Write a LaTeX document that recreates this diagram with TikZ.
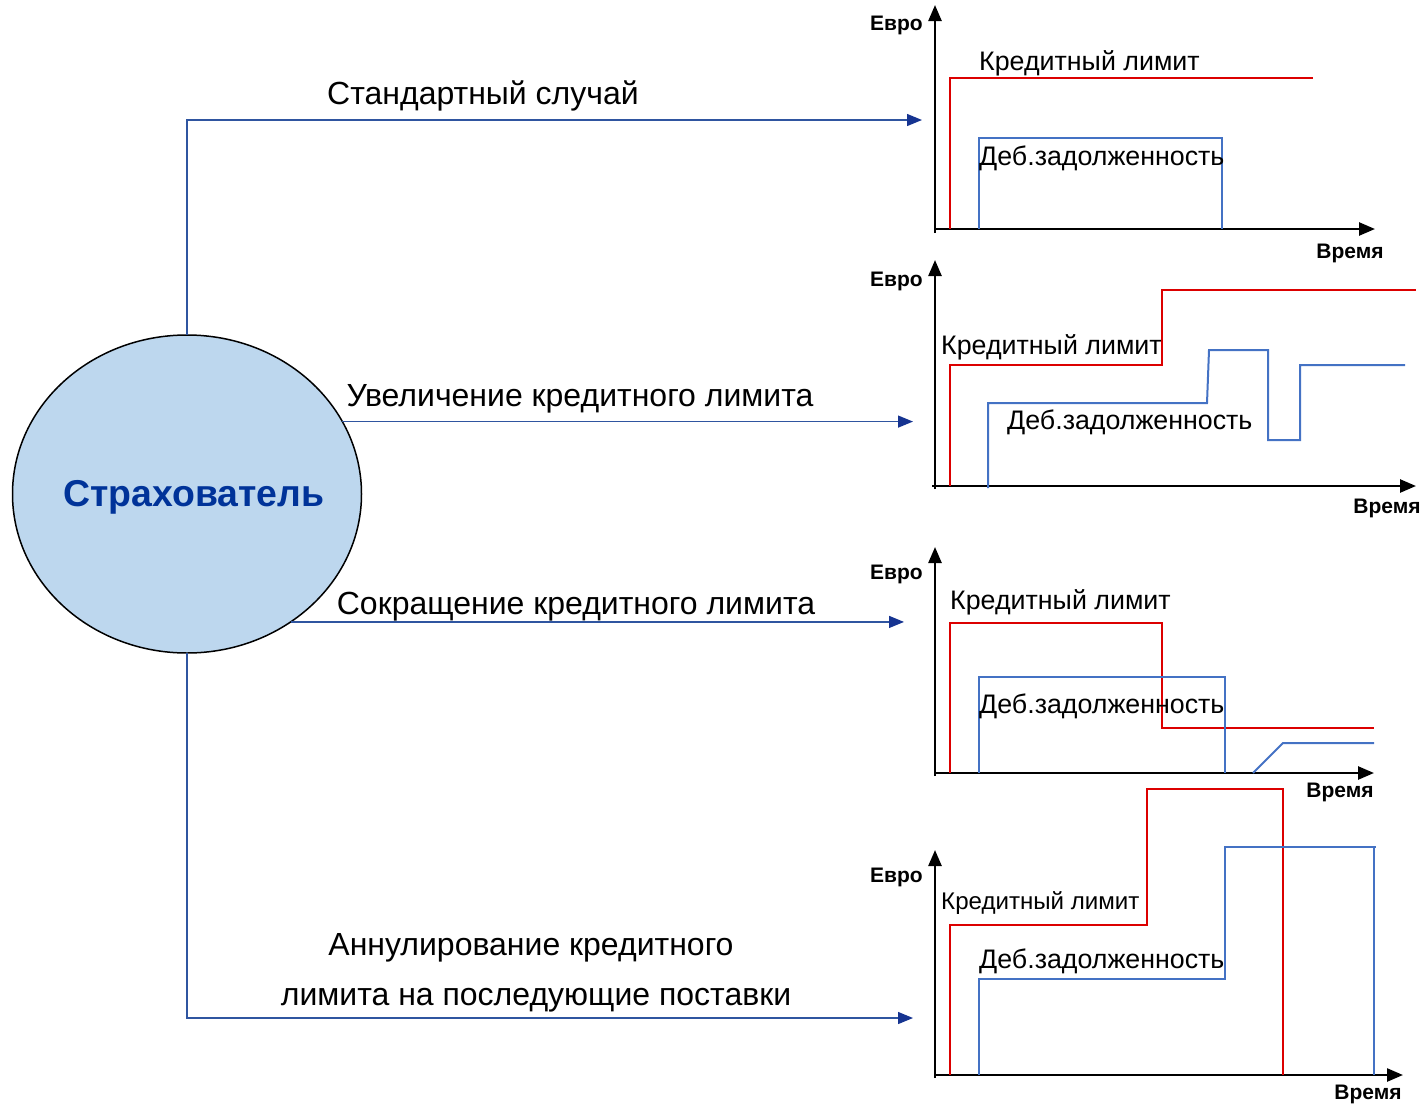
\documentclass[tikz,border=0pt]{standalone}
\usepackage{fontspec}
\setmainfont{Liberation Sans}
\usetikzlibrary{arrows.meta,shapes.geometric}
\definecolor{limc}{RGB}{220,0,0}
\definecolor{debtc}{RGB}{68,114,196}
\definecolor{connc}{RGB}{47,85,160}
\definecolor{arrc}{RGB}{22,52,145}
\definecolor{ellfill}{RGB}{189,215,238}
\definecolor{titc}{RGB}{0,51,153}
\newcommand\setfs[1]{\fontsize{#1}{#1}\selectfont}
\begin{document}
\begin{tikzpicture}[x=1pt,y=-1pt,
  mainlbl/.style={font=\setfs{32}, inner sep=0},
  chlbl/.style={font=\setfs{26.8}, inner sep=0, anchor=west},
  axlbl/.style={font=\bfseries\setfs{21}, inner sep=0},
  axisln/.style={line width=2.5pt, -{Triangle[length=16pt,width=13pt]}},
  conn/.style={draw=connc, line width=1.3pt, -{Triangle[length=15pt,width=12pt,color=arrc]}},
  redl/.style={draw=limc, line width=2pt},
  bluel/.style={draw=debtc, line width=2pt}]
\useasboundingbox (0,0) rectangle (1424,1106);

% central ellipse
\node[ellipse, draw, line width=1.5pt, fill=ellfill, outer sep=0, inner sep=0,
      minimum width=349pt, minimum height=318pt] (ins) at (187,494) {};
\node[font=\bfseries\setfs{37.4}, text=titc, inner sep=0] (tit) at (194,497) {Страхователь};

% connector ends
\coordinate (e1) at (922,120);
\coordinate (e2) at (913,422);
\coordinate (e3) at (904,620);
\coordinate (e4) at (913,1018);
\draw[conn] (ins.north) |- (e1);
\draw[conn] (ins.25.6) -- (ins.25.6 -| e2);
\draw[conn] (ins.-51) -- (ins.-51 -| e3);
\draw[conn] (ins.south) |- (e4);

% connector labels
\node[mainlbl] (l1) at (483,96) {Стандартный случай};
\node[mainlbl] (l2) at (580,399) {Увеличение кредитного лимита};
\node[mainlbl] (l3) at (576,607) {Сокращение кредитного лимита};
\node[mainlbl] (l4a) at (531,948) {Аннулирование кредитного};
\node[mainlbl] (l4b) at (536,1000) {лимита на последующие поставки};

% ---------- chart 1
\draw[axisln] (935,229) -- (1375,229);
\draw[axisln] (935,233) -- (935,5);
\node[axlbl, anchor=east] (ey1) at (923,25) {Евро};
\node[axlbl] (tx1) at (1350,253) {Время};
\draw[redl] (950,229) -- (950,78) -- (1313,78);
\draw[bluel] (979,229) -- (979,138) -- (1222,138) -- (1222,229);
\node[chlbl] (k1) at (979,63) {Кредитный лимит};
\node[chlbl] (d1) at (979,158) {Деб.задолженность};

% ---------- chart 2
\draw[axisln] (932,486) -- (1416,486);
\draw[axisln] (935,489) -- (935,260);
\node[axlbl, anchor=east] (ey2) at (923,281) {Евро};
\node[axlbl] (tx2) at (1387,508) {Время};
\draw[redl] (950,486) -- (950,365) -- (1162,365) -- (1162,290) -- (1416,290);
\draw[bluel] (988,488) -- (988,403) -- (1207,403) -- (1209,350) -- (1268,350)
  -- (1268,440) -- (1300,440) -- (1300,365) -- (1405,365);
\node[chlbl] (k2) at (941,347) {Кредитный лимит};
\node[chlbl] (d2) at (1007,422) {Деб.задолженность};

% ---------- chart 3
\draw[axisln] (935,773) -- (1374,773);
\draw[axisln] (935,776) -- (935,547);
\node[axlbl, anchor=east] (ey3) at (923,574) {Евро};
\node[axlbl] (tx3) at (1340,792) {Время};
\draw[redl] (950,773) -- (950,623) -- (1162,623) -- (1162,728) -- (1374,728);
\draw[bluel] (979,773) -- (979,677) -- (1225,677) -- (1225,773);
\draw[bluel] (1253,773) -- (1283,743) -- (1374,743);
\node[chlbl] (k3) at (950,602) {Кредитный лимит};
\node[chlbl] (d3) at (979,706) {Деб.задолженность};

% ---------- chart 4
\draw[axisln] (935,1075) -- (1403,1075);
\draw[axisln] (935,1078) -- (935,850);
\node[axlbl, anchor=east] (ey4) at (923,877) {Евро};
\node[axlbl] (tx4) at (1368,1094) {Время};
\draw[redl] (950,1075) -- (950,925) -- (1147,925) -- (1147,789) -- (1283,789) -- (1283,1075);
\draw[bluel] (979,1075) -- (979,979) -- (1225,979) -- (1225,847) -- (1376,847);
\draw[bluel] (1374,847) -- (1374,1075);
\node[chlbl, font=\setfs{24.1}] (k4) at (941,903) {Кредитный лимит};
\node[chlbl] (d4) at (979,961) {Деб.задолженность};
\end{tikzpicture}
\end{document}
